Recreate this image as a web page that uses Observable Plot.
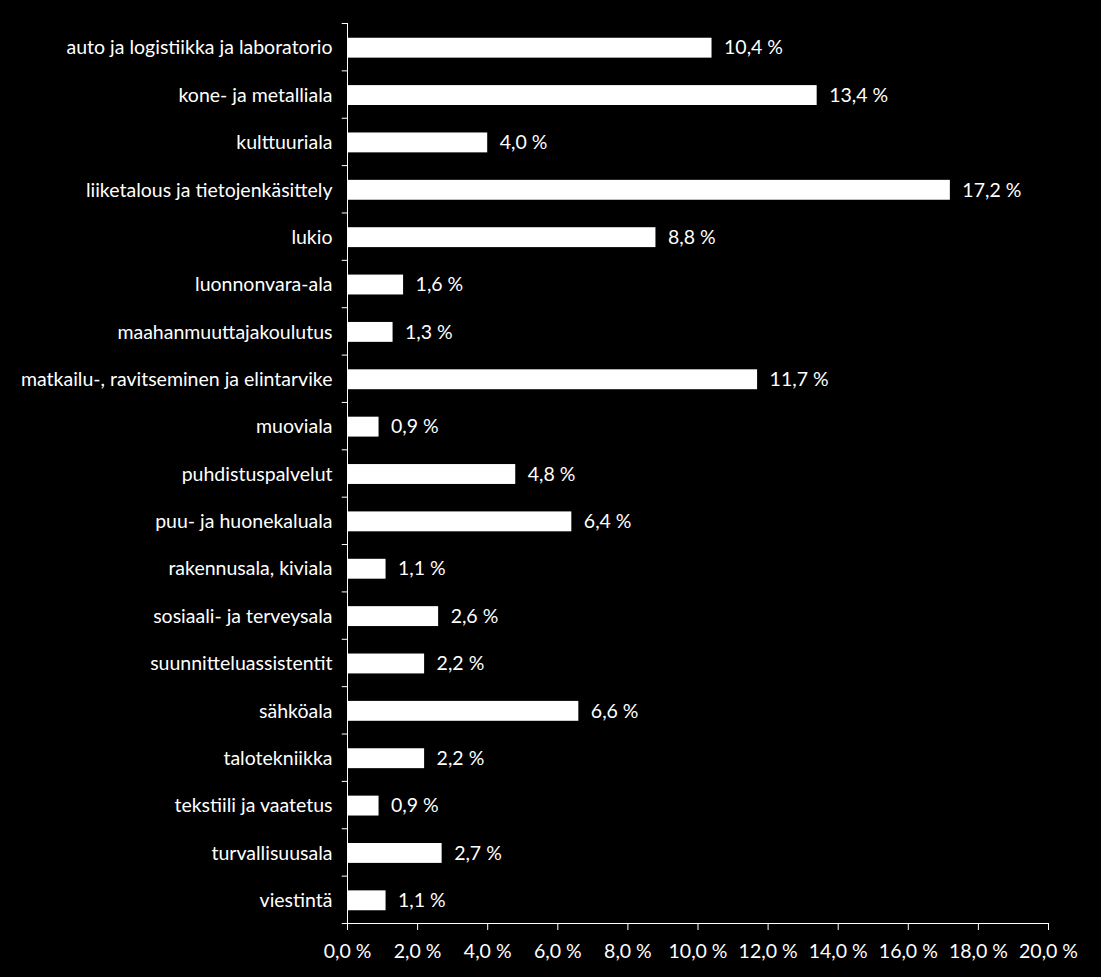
<!DOCTYPE html>
<html><head><meta charset="utf-8">
<script src="https://cdn.jsdelivr.net/npm/d3@7"></script>
<script src="https://cdn.jsdelivr.net/npm/@observablehq/plot@0.6"></script>
<style>
html,body{margin:0;padding:0;background:#000;}
#chart svg{display:block;}
</style></head>
<body><div id="chart"></div>
<script>
const categories = [
  "auto ja logistiikka ja laboratorio",
  "kone- ja metalliala",
  "kulttuuriala",
  "liiketalous ja tietojenkäsittely",
  "lukio",
  "luonnonvara-ala",
  "maahanmuuttajakoulutus",
  "matkailu-, ravitseminen ja elintarvike",
  "muoviala",
  "puhdistuspalvelut",
  "puu- ja huonekaluala",
  "rakennusala, kiviala",
  "sosiaali- ja terveysala",
  "suunnitteluassistentit",
  "sähköala",
  "talotekniikka",
  "tekstiili ja vaatetus",
  "turvallisuusala",
  "viestintä"
];
const values = [10.4, 13.4, 4.0, 17.2, 8.8, 1.6, 1.3, 11.7, 0.9, 4.8, 6.4, 1.1, 2.6, 2.2, 6.6, 2.2, 0.9, 2.7, 1.1];
const xTicks = [0, 2, 4, 6, 8, 10, 12, 14, 16, 18, 20];

const data = categories.map((c, i) => ({cat: c, v: values[i]}));
const fmt = v => v.toFixed(1).replace(".", ",") + " %";

const W = 1101, H = 977;
const mTop = 23, mBottom = 54;
const step = (H - mTop - mBottom) / categories.length;
const font = "Lato, 'Open Sans', sans-serif";
const fs = 19.5;

const chart = Plot.plot({
  width: W, height: H,
  marginLeft: 347, marginRight: 53, marginTop: mTop, marginBottom: mBottom,
  style: {background: "#000", color: "#fff", fontFamily: font, fontSize: fs + "px"},
  x: {domain: [0, 20], ticks: xTicks, tickFormat: fmt, label: null, tickSize: 7, tickPadding: 14},
  y: {domain: categories, paddingInner: 0.58, paddingOuter: 0.29, round: false, label: null, tickSize: 0, tickPadding: 15},
  marks: [
    Plot.barX(data, {y: "cat", x: "v", fill: "#fff", dy: 1}),
    Plot.text(data, {y: "cat", x: "v", text: d => fmt(d.v), textAnchor: "start", dx: 12, dy: 1, fill: "#fff", fontSize: fs}),
    Plot.ruleY(categories, {y: d => d, dy: -step / 2, x1: -0.15, x2: 0, stroke: "#fff"}),
    Plot.ruleY(categories.slice(-1), {y: d => d, dy: step / 2, x1: -0.15, x2: 0, stroke: "#fff"}),
    Plot.ruleX([0], {stroke: "#fff"}),
    Plot.frame({anchor: "bottom", stroke: "#fff"}),
    Plot.axisX({ticks: xTicks, tickFormat: fmt, tickSize: 7, tickPadding: 14, stroke: "#fff", fill: "#fff", fontSize: fs, label: null}),
    Plot.axisY({tickSize: 0, tickPadding: 15, dy: 1, fill: "#fff", fontSize: fs, label: null})
  ]
});
document.getElementById("chart").appendChild(chart);
</script></body></html>
